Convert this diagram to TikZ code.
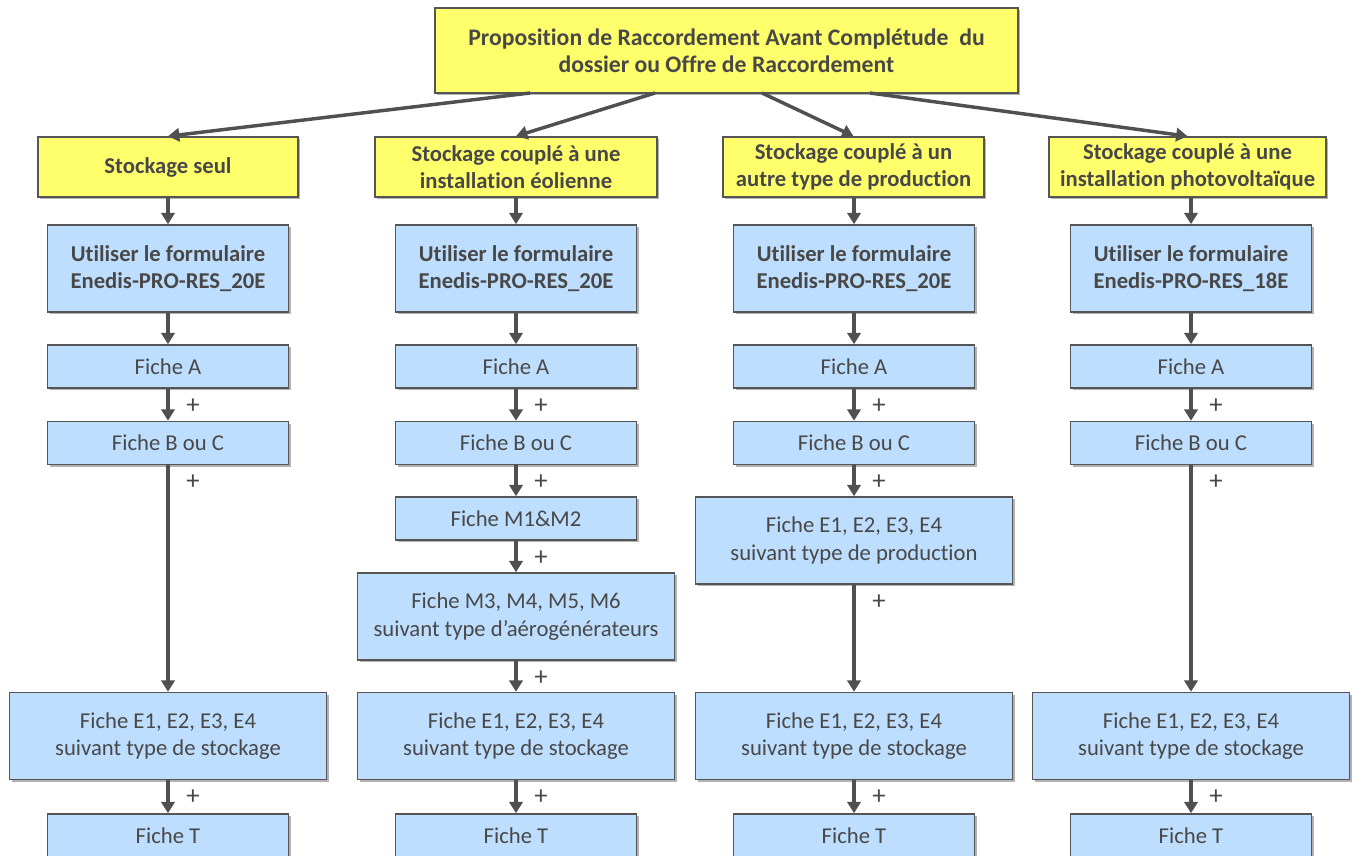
\documentclass[tikz,border=0pt]{standalone}
\usepackage{fontspec}
\setmainfont{Carlito}[Ligatures={NoCommon}]
\usetikzlibrary{arrows.meta,calc,shadows}
\newdimen\pxu \pxu=0.75pt
\definecolor{boxyellow}{HTML}{FFFF6B}
\definecolor{boxblue}{HTML}{BEDEFF}
\definecolor{edgegray}{HTML}{555555}
\definecolor{txtgray}{HTML}{484848}
\definecolor{arrgray}{HTML}{505050}
\tikzset{
  basebox/.style={draw=edgegray, line width=1.2pt, align=center, inner sep=0pt,
    text=txtgray, font=\fontsize{17}{20.8}\selectfont,
    drop shadow={shadow xshift=1.5pt, shadow yshift=-1.5pt, opacity=0.3, fill=black}},
  ybox/.style={basebox, fill=boxyellow, font=\fontsize{17}{20.3}\selectfont\bfseries},
  formbox/.style={basebox, fill=boxblue, font=\fontsize{17}{20.3}\selectfont\bfseries,
    minimum width=241\pxu, minimum height=87\pxu},
  smallbox/.style={basebox, fill=boxblue, minimum width=241\pxu, minimum height=43\pxu},
  widebox/.style={basebox, fill=boxblue, minimum width=317\pxu, minimum height=87\pxu},
  arr/.style={draw=arrgray, line width=2.6pt, -{Triangle[length=8.5pt, width=10pt]}},
  plussty/.style={text=txtgray, font=\fontsize{20}{22}\selectfont, inner sep=0pt}
}
\newcommand\linkp[2]{\draw[arr] (#2.north |- #1.south) -- (#2.north);
  \node[plussty] at ($(#2.north |- #1.south)+(25,17)$) {+};}
\newcommand\linkn[2]{\draw[arr] (#2.north |- #1.south) -- (#2.north);}
\begin{document}
\begin{tikzpicture}[x=0.75pt, y=-0.75pt]
\useasboundingbox (0,0) rectangle (1352,856);
\clip (0,0) rectangle (1352,856);
% top
\node[ybox, minimum width=583\pxu, minimum height=85\pxu, font=\fontsize{17.8}{20.3}\selectfont\bfseries] (top) at (726.5,50.5)
  {Proposition de Raccordement Avant Complétude~ du\\dossier ou Offre de Raccordement};
% yellow row
\node[ybox, minimum width=260\pxu, minimum height=60\pxu] (y1) at (168,167) {Stockage seul};
\node[ybox, minimum width=282\pxu, minimum height=60\pxu] (y2) at (516,167) {Stockage couplé à une\\installation éolienne};
\node[ybox, minimum width=261\pxu, minimum height=60\pxu] (y3) at (853.5,167) {Stockage couplé à un\\autre type de production};
\node[ybox, minimum width=277\pxu, minimum height=60\pxu] (y4) at (1187.5,167) {Stockage couplé à une\\installation photovoltaïque};
% form boxes
\node[formbox] (f1) at (168,268.5) {Utiliser le formulaire\\Enedis-PRO-RES\_20E};
\node[formbox] (f2) at (516,268.5) {Utiliser le formulaire\\Enedis-PRO-RES\_20E};
\node[formbox] (f3) at (854,268.5) {Utiliser le formulaire\\Enedis-PRO-RES\_20E};
\node[formbox] (f4) at (1191,268.5) {Utiliser le formulaire\\Enedis-PRO-RES\_18E};
% Fiche A
\node[smallbox] (a1) at (168,366.5) {Fiche A};
\node[smallbox] (a2) at (516,366.5) {Fiche A};
\node[smallbox] (a3) at (854,366.5) {Fiche A};
\node[smallbox] (a4) at (1191,366.5) {Fiche A};
% Fiche B ou C
\node[smallbox] (b1) at (168,443) {Fiche B ou C};
\node[smallbox] (b2) at (516,443) {Fiche B ou C};
\node[smallbox] (b3) at (854,443) {Fiche B ou C};
\node[smallbox] (b4) at (1191,443) {Fiche B ou C};
% column 2 extras
\node[smallbox] (m12) at (516,518.5) {Fiche M1\&M2};
\node[widebox] (m36) at (516,616.5) {Fiche M3, M4, M5, M6\\suivant type d’aérogénérateurs};
% column 3 extra
\node[widebox] (ep) at (854,540.5) {Fiche E1, E2, E3, E4\\suivant type de production};
% E boxes
\node[widebox] (e1) at (168,736) {Fiche E1, E2, E3, E4\\suivant type de stockage};
\node[widebox] (e2) at (516,736) {Fiche E1, E2, E3, E4\\suivant type de stockage};
\node[widebox] (e3) at (854,736) {Fiche E1, E2, E3, E4\\suivant type de stockage};
\node[widebox] (e4) at (1191,736) {Fiche E1, E2, E3, E4\\suivant type de stockage};
% Fiche T (cut at bottom)
\node[smallbox, minimum height=64\pxu] (t1) at (168,846) {};
\node[smallbox, minimum height=64\pxu] (t2) at (516,846) {};
\node[smallbox, minimum height=64\pxu] (t3) at (854,846) {};
\node[smallbox, minimum height=64\pxu] (t4) at (1191,846) {};
\foreach \i/\x in {1/168,2/516,3/854,4/1191}
  \node[plussty, font=\fontsize{17}{20}\selectfont] (tl\i) at (\x,835.5) {Fiche T};
% top connectors
\coordinate (s1) at (530,93);
\coordinate (s2) at (655,93);
\coordinate (s3) at (762,93);
\coordinate (s4) at (870,93);
\draw[arr] (s1) -- (y1.north);
\draw[arr] (s2) -- (y2.north);
\draw[arr] (s3) -- (y3.north);
\draw[arr] (s4) -- (y4.north);
% column connectors
\foreach \i in {1,2,3,4}{
  \linkn{y\i}{f\i}
  \linkn{f\i}{a\i}
  \linkp{a\i}{b\i}
  \linkp{e\i}{t\i}
}
\linkp{b1}{e1}
\linkp{b2}{m12}
\linkp{m12}{m36}
\linkp{m36}{e2}
\linkp{b3}{ep}
\linkp{ep}{e3}
\linkp{b4}{e4}
\end{tikzpicture}
\end{document}
